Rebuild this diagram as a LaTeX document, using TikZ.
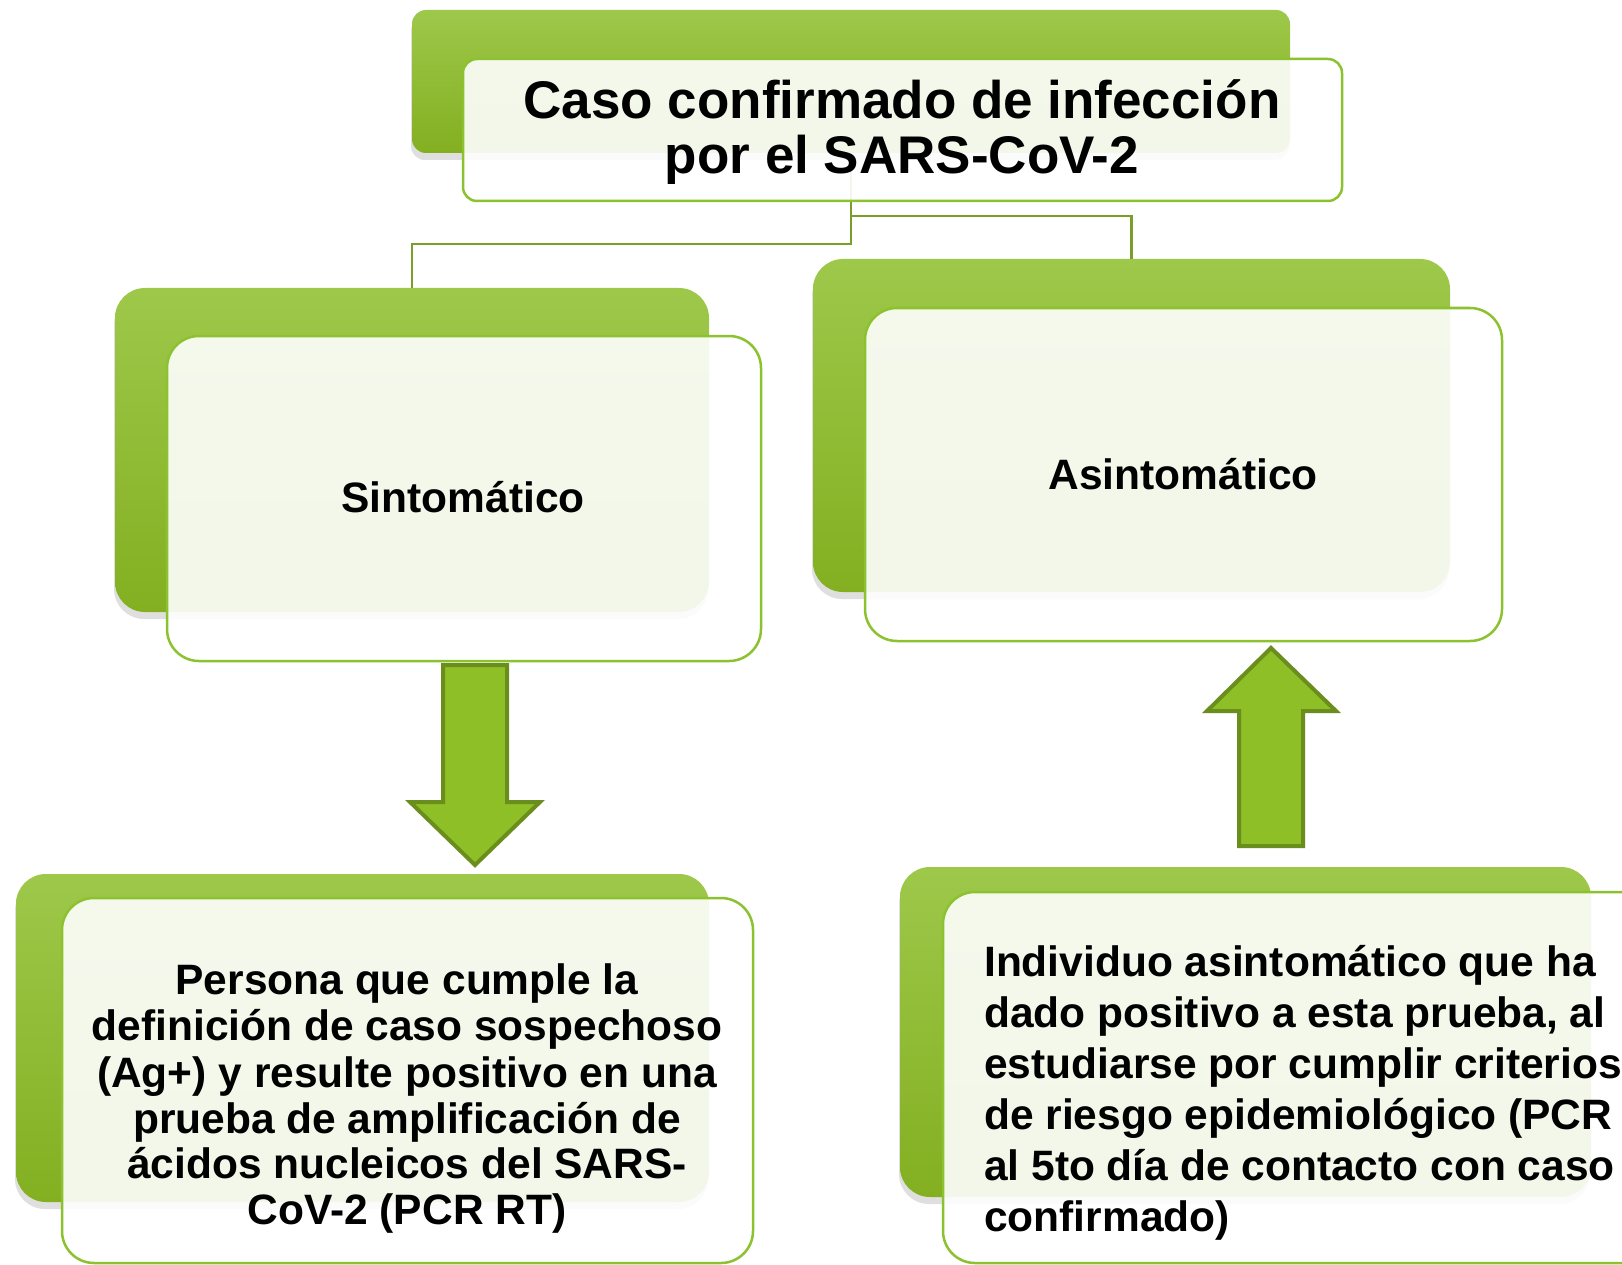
\documentclass[tikz,border=0pt]{standalone}
\usepackage{fontspec}
\setmainfont{Liberation Sans}
\usetikzlibrary{shadows}
\definecolor{gtop}{RGB}{158,200,74}
\definecolor{gbot}{RGB}{131,175,33}
\definecolor{gedge}{RGB}{140,194,48}
\definecolor{gline}{RGB}{122,158,42}
\definecolor{afill}{RGB}{143,191,38}
\definecolor{aedge}{RGB}{106,142,30}
\begin{document}
\begin{tikzpicture}[x=1pt,y=-1pt,
  backbox/.style={rectangle, rounded corners=30pt, top color=gtop, bottom color=gbot, draw=none, inner sep=0pt,
    drop shadow={shadow xshift=-1pt,shadow yshift=-7pt,opacity=0.25}},
  frontbox/.style={rectangle, rounded corners=32pt, draw=gedge, line width=2.5pt, fill=white, fill opacity=0.9, inner sep=0pt},
  conn/.style={draw=gline, line width=2.2pt},
  blockarrow/.style={fill=afill, draw=aedge, line width=4pt, line join=miter},
  txt/.style={font=\bfseries\fontsize{42.5}{46}\selectfont, align=center, inner sep=0pt, text=black},
  ttl/.style={font=\bfseries\fontsize{53}{55}\selectfont, align=center, inner sep=0pt, text=black}
]
\useasboundingbox (0,0) rectangle (1622,1265);
\clip (0,0) rectangle (1622,1265);
\fill[white] (0,0) rectangle (1622,1265);

% back boxes
\node[backbox, rounded corners=14pt, minimum width=878pt, minimum height=143pt] (tb) at (851,81.5) {};
\node[backbox, minimum width=594pt, minimum height=324pt] (sb) at (412,450) {};
\node[backbox, minimum width=637pt, minimum height=333pt] (ab) at (1131.5,425.5) {};
\node[backbox, minimum width=693pt, minimum height=328pt] (lb) at (362.5,1038) {};
\node[backbox, minimum width=691pt, minimum height=330pt] (rb) at (1245.5,1032) {};

% connectors
\coordinate (jl) at (0,244);
\coordinate (jr) at (0,216);
\draw[conn] (tb.south) -- (tb.south |- jl) -| (sb.north);
\draw[conn] (tb.south |- jr) -| (ab.north);

% front boxes
\node[frontbox, rounded corners=14pt, minimum width=879pt, minimum height=142pt] (tf) at (902.5,130) {};
\node[frontbox, minimum width=594pt, minimum height=325pt] (sf) at (464,498.5) {};
\node[frontbox, minimum width=637pt, minimum height=333pt] (af) at (1183.5,474.5) {};
\node[frontbox, minimum width=691pt, minimum height=365pt] (lf) at (407.5,1080.5) {};
\node[frontbox, minimum width=717pt, minimum height=371pt] (rf) at (1301.5,1077.5) {};

% block arrows
\draw[blockarrow] (443,665) -- (507,665) -- (507,802) -- (540,802) -- (475,865) -- (410,802) -- (443,802) -- cycle;
\draw[blockarrow] (1239,846) -- (1303,846) -- (1303,711) -- (1336,711) -- (1271,648) -- (1207,711) -- (1239,711) -- cycle;

% texts
\node[ttl] (tt) at (902,132) {Caso confirmado de infección\\por el SARS-CoV-2};
\node[txt] (st) at (463,497) {Sintomático};
\node[txt] (at) at (1183,474) {Asintomático};
\node[txt] (lt) at (407,1099) {Persona que cumple la\\definición de caso sospechoso\\(Ag+) y resulte positivo en una\\prueba de amplificación de\\ácidos nucleicos del SARS-\\CoV-2 (PCR RT)};
\node[txt, align=left, anchor=west, font=\bfseries\fontsize{42.5}{51}\selectfont] (rt) at (984,1093) {Individuo asintomático que ha\\dado positivo a esta prueba, al\\estudiarse por cumplir criterios\\de riesgo epidemiológico (PCR\\al 5to día de contacto con caso\\confirmado)};
\end{tikzpicture}
\end{document}
